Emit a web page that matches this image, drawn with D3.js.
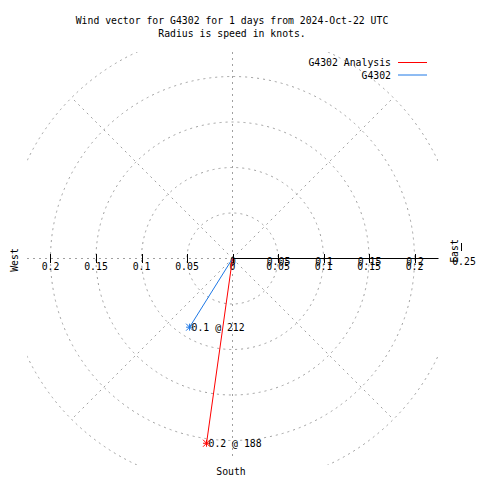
<!DOCTYPE html>
<html>
<head>
<meta charset="utf-8">
<script src="https://cdn.jsdelivr.net/npm/d3@7"></script>
<style>
  html, body { margin: 0; padding: 0; background: #fff; }
  text { font-family: "DejaVu Sans Mono", "Liberation Mono", monospace; font-size: 9.8px; fill: #000; }
</style>
</head>
<body>
<svg id="chart" width="480" height="480"></svg>
<script>
// ---- data ----
const titleLines = ["Wind vector for G4302 for 1 days from 2024-Oct-22 UTC", "Radius is speed in knots."];
const seriesNames = ["G4302 Analysis", "G4302"];
const seriesColors = ["#ff0000", "#1e78e6"];
const speeds = [0.205, 0.089];        // knots
const directions = [188, 212];        // degrees, compass bearing
const ringValues = [0.05, 0.1, 0.15, 0.2, 0.25];
const spokeAngles = [45, 135, 225, 315];
const xTickValues = [-0.2, -0.15, -0.1, -0.05, 0, 0.05, 0.1, 0.15, 0.2];
const rTickValues = [0, 0.05, 0.1, 0.15, 0.2, 0.25];
const compassLabels = ["West", "East", "South"];

// ---- layout ----
const cx = 232.5, cy = 258.5;
const clip = {x0: 27, y0: 52, x1: 438, y1: 465};
const r = d3.scaleLinear().domain([0, 0.25]).range([0, 227.5]);
const x = d3.scaleLinear().domain([-0.25, 0.25]).range([cx - 227.5, cx + 227.5]);
const grid = "#a0a0a0";
const dash = "2,4";

const svg = d3.select("#chart");
svg.append("defs").append("clipPath").attr("id", "plotclip")
  .append("rect").attr("x", clip.x0).attr("y", clip.y0)
  .attr("width", clip.x1 - clip.x0).attr("height", clip.y1 - clip.y0);

const g = svg.append("g").attr("clip-path", "url(#plotclip)");

// rings
g.selectAll("circle.ring").data(ringValues).enter().append("circle")
  .attr("cx", cx).attr("cy", cy).attr("r", d => r(d))
  .attr("fill", "none").attr("stroke", grid).attr("stroke-dasharray", dash);

// diagonal spokes
g.selectAll("line.spoke").data(spokeAngles).enter().append("line")
  .attr("x1", cx).attr("y1", cy)
  .attr("x2", a => cx + r(0.25) * Math.sin(a * Math.PI / 180))
  .attr("y2", a => cy - r(0.25) * Math.cos(a * Math.PI / 180))
  .attr("stroke", grid).attr("stroke-dasharray", dash);

// N-S line
g.append("line").attr("x1", cx).attr("x2", cx).attr("y1", clip.y0).attr("y2", clip.y1 - 6)
  .attr("stroke", grid).attr("stroke-dasharray", dash);
// west half of horizontal line (dashed)
g.append("line").attr("x1", clip.x0).attr("x2", cx).attr("y1", cy).attr("y2", cy)
  .attr("stroke", grid).attr("stroke-dasharray", dash);
// east half (solid axis)
svg.append("line").attr("x1", cx).attr("x2", clip.x1 + 0.5).attr("y1", cy).attr("y2", cy)
  .attr("stroke", "#000");

// tick marks
svg.selectAll("line.xtick").data(xTickValues).enter().append("line")
  .attr("x1", d => Math.round(x(d)) + 0.5).attr("x2", d => Math.round(x(d)) + 0.5)
  .attr("y1", cy - 4.5).attr("y2", cy + 4.5).attr("stroke", "#000");

const fmt = d => String(+Math.abs(d).toFixed(2));
// x-axis labels (both sides)
svg.selectAll("text.xlab").data(xTickValues).enter().append("text")
  .attr("x", d => x(d)).attr("y", 270).attr("text-anchor", "middle").text(fmt);
// r-axis labels (east side, drawn over, as in the reference)
svg.selectAll("text.rlab").data(rTickValues).enter().append("text")
  .attr("x", d => cx + r(d) + (d === 0.25 ? 4 : 0.5)).attr("y", 265).attr("text-anchor", "middle").text(fmt);
// r tick at 0.25
svg.append("line").attr("x1", Math.round(cx + r(0.25)) + 1.5).attr("x2", Math.round(cx + r(0.25)) + 1.5)
  .attr("y1", 243).attr("y2", 251).attr("stroke", "#000");

// compass labels
svg.append("text").attr("transform", "translate(18,260) rotate(-90)").attr("text-anchor", "middle").text(compassLabels[0]);
svg.append("text").attr("transform", "translate(458,251) rotate(-90)").attr("text-anchor", "middle").text(compassLabels[1]);
svg.append("text").attr("x", 231).attr("y", 475).attr("text-anchor", "middle").text(compassLabels[2]);

// title
svg.selectAll("text.title").data(titleLines).enter().append("text")
  .attr("x", 232).attr("y", (d, i) => 24 + i * 13).attr("text-anchor", "middle").text(d => d);

// vectors
const pts = speeds.map((s, i) => ({
  s, dir: directions[i], color: seriesColors[i],
  px: cx + r(s) * Math.sin(directions[i] * Math.PI / 180),
  py: cy - r(s) * Math.cos(directions[i] * Math.PI / 180)
}));
const vg = svg.append("g");
pts.slice().reverse().forEach(p => {
  vg.append("line").attr("x1", cx).attr("y1", cy).attr("x2", p.px).attr("y2", p.py)
    .attr("stroke", p.color).attr("stroke-width", 1);
  const k = 3.5;
  [[k, 0], [0, k], [k, k], [k, -k]].forEach(([dx, dy]) => {
    vg.append("line").attr("x1", p.px - dx).attr("y1", p.py - dy)
      .attr("x2", p.px + dx).attr("y2", p.py + dy).attr("stroke", p.color);
  });
  vg.append("text").attr("x", p.px + 2).attr("y", p.py + 3.5)
    .text(d3.format(".1f")(p.s) + " @ " + p.dir);
});

// legend
seriesNames.forEach((name, i) => {
  const ly = 62.5 + i * 12.5;
  svg.append("text").attr("x", 391).attr("y", ly + 3.5).attr("text-anchor", "end").text(name);
  svg.append("line").attr("x1", 398).attr("x2", 427).attr("y1", ly).attr("y2", ly)
    .attr("stroke", seriesColors[i]);
});
</script>
</body>
</html>
